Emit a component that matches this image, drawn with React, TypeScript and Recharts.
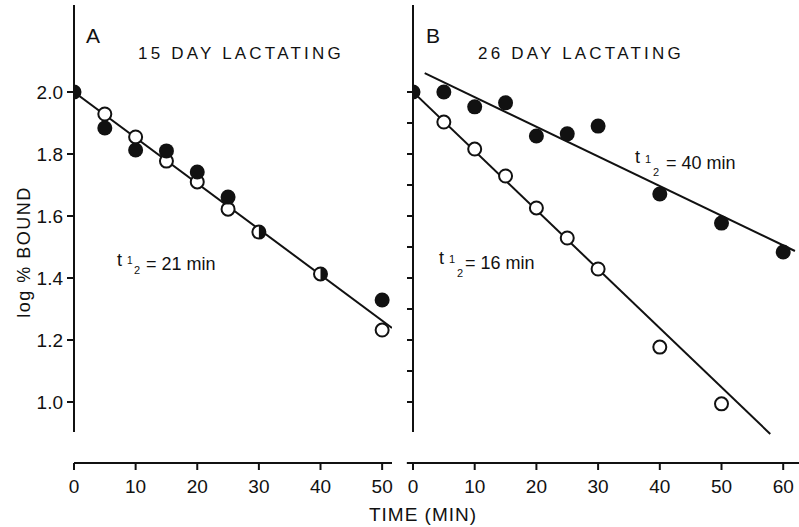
import { ComposedChart, Scatter, Line, XAxis, YAxis, ReferenceLine } from 'recharts';

// panel A: 15 day lactating
const aFilled = [
  { x: 5, y: 1.884 },
  { x: 10, y: 1.813 },
  { x: 15, y: 1.81 },
  { x: 20, y: 1.742 },
  { x: 25, y: 1.661 },
  { x: 50, y: 1.329 },
];
const aOpen = [
  { x: 5, y: 1.929 },
  { x: 10, y: 1.855 },
  { x: 15, y: 1.777 },
  { x: 20, y: 1.71 },
  { x: 25, y: 1.622 },
  { x: 50, y: 1.232 },
];
const aBoth = [
  { x: 0, y: 2.0 },
  { x: 30, y: 1.548 },
  { x: 40, y: 1.413 },
];
const aFit = [
  { x: 0, y: 2.0 },
  { x: 51.6, y: 1.239 },
];

// panel B: 26 day lactating
const bFilled = [
  { x: 5, y: 2.0 },
  { x: 10, y: 1.952 },
  { x: 15, y: 1.965 },
  { x: 20, y: 1.858 },
  { x: 25, y: 1.865 },
  { x: 30, y: 1.89 },
  { x: 40, y: 1.671 },
  { x: 50, y: 1.577 },
  { x: 60, y: 1.484 },
];
const bOpen = [
  { x: 5, y: 1.903 },
  { x: 10, y: 1.816 },
  { x: 15, y: 1.729 },
  { x: 20, y: 1.626 },
  { x: 25, y: 1.529 },
  { x: 30, y: 1.429 },
  { x: 40, y: 1.177 },
  { x: 50, y: 0.994 },
];
const bBoth = [{ x: 0, y: 2.0 }];
const bFitFilled = [
  { x: 1.9, y: 2.061 },
  { x: 61.9, y: 1.487 },
];
const bFitOpen = [
  { x: 0, y: 2.0 },
  { x: 57.9, y: 0.897 },
];

const aTicksX = [0, 10, 20, 30, 40, 50];
const bTicksX = [0, 10, 20, 30, 40, 50, 60];
const aTicksY = [1.0, 1.2, 1.4, 1.6, 1.8, 2.0];
const bTicksY = [1.0, 1.1, 1.2, 1.3, 1.4, 1.5, 1.6, 1.7, 1.8, 1.9, 2.0];

const Y_DOMAIN: [number, number] = [0.8032, 2.2806];
const INK = '#111';
const FONT = '"Liberation Sans", Arial, sans-serif';

const marker = (kind: 'filled' | 'open' | 'half') => (props: any) => {
  const { cx, cy } = props;
  if (cx == null || cy == null) return <g />;
  if (kind === 'filled') return <circle cx={cx} cy={cy} r={7.5} fill={INK} />;
  if (kind === 'open')
    return <circle cx={cx} cy={cy} r={6.5} fill="#fff" stroke={INK} strokeWidth={2} />;
  return (
    <g>
      <circle cx={cx} cy={cy} r={6.5} fill="#fff" stroke={INK} strokeWidth={2} />
      <path d={`M${cx},${cy - 6.5} A6.5,6.5 0 0 1 ${cx},${cy + 6.5} Z`} fill={INK} />
    </g>
  );
};

const tickFont = { fontSize: 19, fill: INK, fontFamily: FONT };

export default function App() {
  return (
    <div style={{ position: 'absolute', left: 0, top: 0, width: 799, height: 527, background: '#fff' }}>
      <div style={{ position: 'absolute', left: 0, top: 0 }}>
        <ComposedChart width={400} height={527} margin={{ top: 5, right: 8, bottom: 34, left: 14 }}>
          <XAxis
            type="number"
            dataKey="x"
            domain={[0, 51.6]}
            ticks={aTicksX}
            allowDataOverflow
            height={30}
            tickSize={7}
            tickMargin={10}
            axisLine={{ stroke: INK, strokeWidth: 2 }}
            tickLine={{ stroke: INK, strokeWidth: 2 }}
            tick={tickFont}
          />
          <YAxis
            type="number"
            dataKey="y"
            domain={Y_DOMAIN}
            ticks={aTicksY}
            allowDataOverflow
            width={60}
            tickSize={7}
            tickMargin={4}
            axisLine={false}
            tickLine={{ stroke: INK, strokeWidth: 2 }}
            tick={tickFont}
            tickFormatter={(v: number) => v.toFixed(1)}
          />
          <ReferenceLine
            segment={[{ x: 0, y: 0.903 }, { x: 0, y: 2.2806 }]}
            stroke={INK}
            strokeWidth={2}
            ifOverflow="visible"
          />
          <Line data={aFit} dataKey="y" stroke={INK} strokeWidth={2} dot={false} isAnimationActive={false} />
          <Scatter data={aOpen} dataKey="y" shape={marker('open')} isAnimationActive={false} />
          <Scatter data={aFilled} dataKey="y" shape={marker('filled')} isAnimationActive={false} />
          <Scatter data={aBoth} dataKey="y" shape={marker('half')} isAnimationActive={false} />
        </ComposedChart>
      </div>
      <div style={{ position: 'absolute', left: 400, top: 0 }}>
        <ComposedChart width={399} height={527} margin={{ top: 5, right: 0, bottom: 34, left: 3 }}>
          <XAxis
            type="number"
            dataKey="x"
            domain={[0, 62.56]}
            ticks={bTicksX}
            allowDataOverflow
            height={30}
            tickSize={7}
            tickMargin={10}
            axisLine={{ stroke: INK, strokeWidth: 2 }}
            tickLine={{ stroke: INK, strokeWidth: 2 }}
            tick={tickFont}
          />
          <YAxis
            type="number"
            dataKey="y"
            domain={Y_DOMAIN}
            ticks={bTicksY}
            allowDataOverflow
            width={10}
            tickSize={6}
            axisLine={false}
            tickLine={{ stroke: INK, strokeWidth: 2 }}
            tick={tickFont}
            tickFormatter={() => ''}
          />
          <ReferenceLine
            segment={[{ x: 0, y: 0.903 }, { x: 0, y: 2.2806 }]}
            stroke={INK}
            strokeWidth={2}
            ifOverflow="visible"
          />
          <ReferenceLine
            segment={[{ x: -1, y: 0.8032 }, { x: 0, y: 0.8032 }]}
            stroke={INK}
            strokeWidth={2}
            ifOverflow="visible"
          />
          <Line data={bFitFilled} dataKey="y" stroke={INK} strokeWidth={2} dot={false} isAnimationActive={false} />
          <Line data={bFitOpen} dataKey="y" stroke={INK} strokeWidth={2} dot={false} isAnimationActive={false} />
          <Scatter data={bOpen} dataKey="y" shape={marker('open')} isAnimationActive={false} />
          <Scatter data={bFilled} dataKey="y" shape={marker('filled')} isAnimationActive={false} />
          <Scatter data={bBoth} dataKey="y" shape={marker('half')} isAnimationActive={false} />
        </ComposedChart>
      </div>
      <svg
        width={799}
        height={527}
        style={{ position: 'absolute', left: 0, top: 0, pointerEvents: 'none' }}
        fontFamily={FONT}
        fill={INK}
      >
        <text x={86} y={43} fontSize={21}>A</text>
        <text x={138} y={59} fontSize={17} letterSpacing={3.2}>15 DAY LACTATING</text>
        <text x={426} y={43} fontSize={21}>B</text>
        <text x={478} y={59} fontSize={17} letterSpacing={3.2}>26 DAY LACTATING</text>

        <text x={117} y={266} fontSize={18}>t</text>
        <text x={127} y={264} fontSize={10}>1</text>
        <text x={134} y={274} fontSize={11}>2</text>
        <text x={146} y={270} fontSize={18}>= 21 min</text>

        <text x={439} y={264} fontSize={18}>t</text>
        <text x={449} y={263} fontSize={11}>1</text>
        <text x={457} y={277} fontSize={11}>2</text>
        <text x={465} y={269} fontSize={18}>= 16 min</text>

        <text x={635} y={163} fontSize={18}>t</text>
        <text x={645} y={163} fontSize={11}>1</text>
        <text x={653} y={176} fontSize={11}>2</text>
        <text x={666} y={169} fontSize={18}>= 40 min</text>

        <text x={423} y={521} fontSize={19} textAnchor="middle" letterSpacing={1}>TIME (MIN)</text>
        <text
          x={0}
          y={0}
          fontSize={18}
          letterSpacing={1.5}
          textAnchor="middle"
          transform="translate(30,252) rotate(-90)"
        >
          log % BOUND
        </text>
      </svg>
    </div>
  );
}
